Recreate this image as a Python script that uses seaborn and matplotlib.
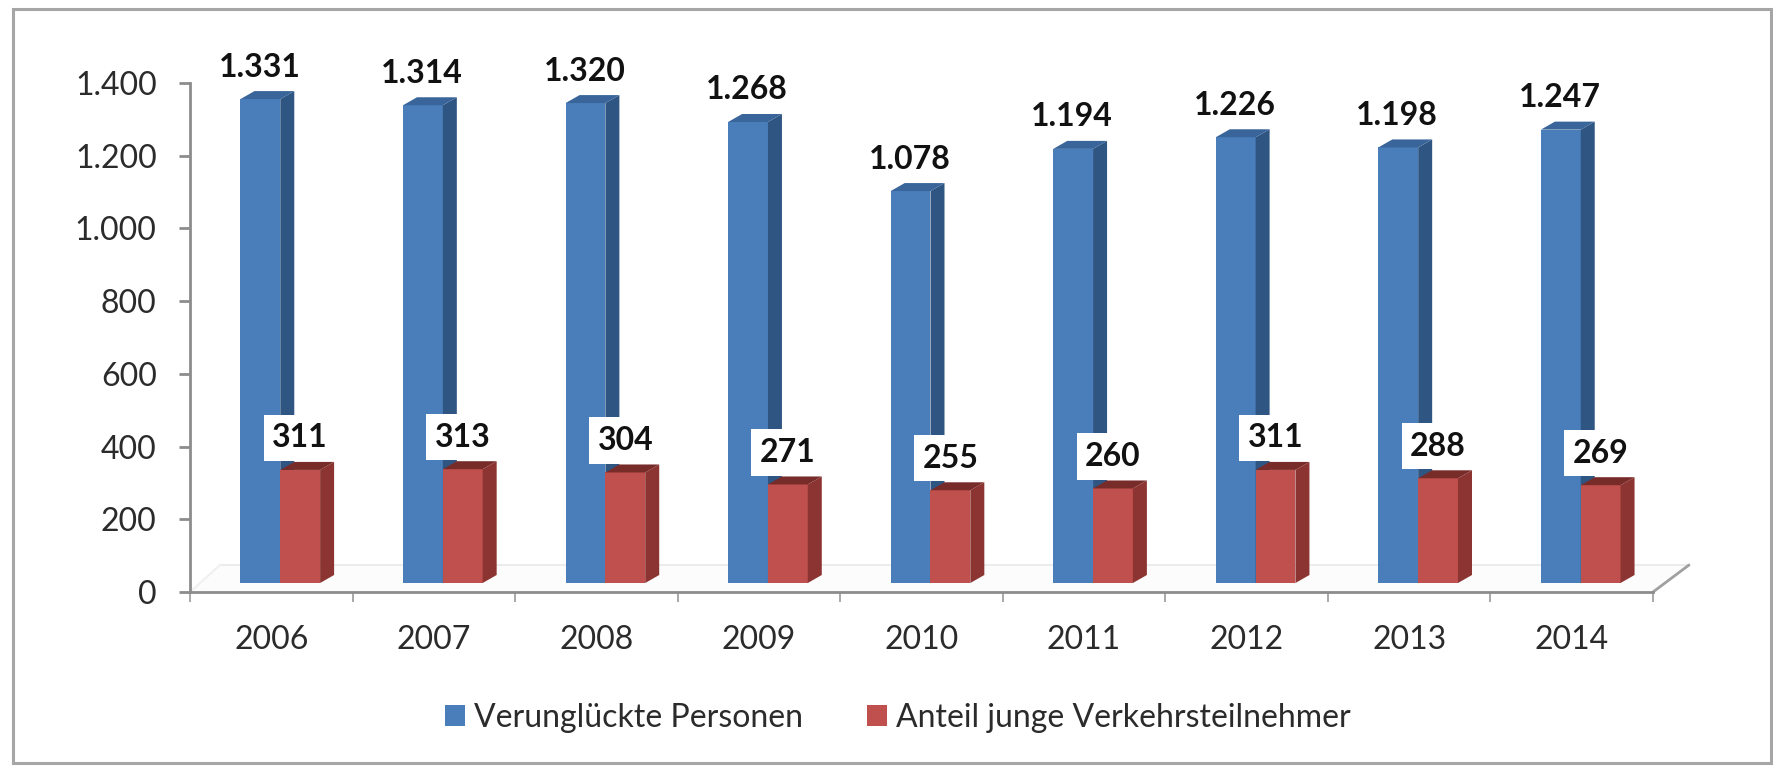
import matplotlib
matplotlib.use('Agg')
import matplotlib.pyplot as plt
import pandas as pd
import seaborn as sns
from matplotlib.patches import Polygon, Rectangle

jahre = ['2006', '2007', '2008', '2009', '2010', '2011', '2012', '2013', '2014']
verunglueckte = [1331, 1314, 1320, 1268, 1078, 1194, 1226, 1198, 1247]
junge = [311, 313, 304, 271, 255, 260, 311, 288, 269]
y_ticks = [0, 200, 400, 600, 800, 1000, 1200, 1400]
y_labels = ['0', '200', '400', '600', '800', '1.000', '1.200', '1.400']
serie_a = 'Verunglückte Personen'
serie_b = 'Anteil junge Verkehrsteilnehmer'

sns.set_style('white')
plt.rcParams['font.family'] = ['Lato', 'DejaVu Sans']

df = pd.DataFrame({
    'Jahr': jahre * 2,
    'Wert': verunglueckte + junge,
    'Serie': [serie_a] * len(jahre) + [serie_b] * len(jahre),
})

W, H = 1774, 766
fig = plt.figure(figsize=(W / 100, H / 100), dpi=100)
ax = fig.add_axes([190 / W, (H - 592) / H, (1653 - 190) / W, (592 - 83) / H])

front = {serie_a: '#4a7ebb', serie_b: '#c0504d'}
side = {serie_a: '#2f5583', serie_b: '#8c3431'}
top = {serie_a: '#3a659a', serie_b: '#772c2a'}

sns.barplot(data=df, x='Jahr', y='Wert', hue='Serie', palette=front, width=0.49,
            saturation=1, ax=ax, zorder=3, legend=True, linewidth=0)

ax.set_xlim(-0.5, 8.5)
ax.set_ylim(0, 1400)

# pixel sizes of the fake 3d look, as data units
px_x = len(jahre) / (1653 - 190)
px_y = 1400 / (592 - 83)
shift_x, shift_y = 9 * px_x, 9 * px_y
depth_x, depth_y = 14 * px_x, 8 * px_y

# floor of the 3d box
floor_l, floor_r = -0.5 + 30 * px_x, 8.5 + 36 * px_x
floor_y = 27 * px_y
ax.add_patch(Polygon([(-0.5, 0), (floor_l, floor_y), (floor_r, floor_y), (8.5, 0)],
                     closed=True, fc='#fcfcfc', ec='none', zorder=1, clip_on=False))
ax.plot([floor_l, floor_r], [floor_y, floor_y], color='#ececec', lw=1.5, zorder=1.5, clip_on=False)
ax.plot([-0.5, floor_l], [0, floor_y], color='#f0f0f0', lw=1.5, zorder=1.5, clip_on=False)
ax.plot([8.5, floor_r], [0, floor_y], color='#a0a0a0', lw=2, zorder=1.5, clip_on=False)

n = len(jahre)
bars = [b for c in ax.containers for b in c]
for i, bar in enumerate(bars):
    serie = serie_a if i < n else serie_b
    z = 3 if serie == serie_a else 4
    x0 = bar.get_x() + shift_x
    x1 = x0 + bar.get_width()
    h = bar.get_height()
    y0 = shift_y
    y1 = y0 + h
    bar.set_x(x0)
    bar.set_y(y0)
    bar.set_zorder(z)
    bar.set_clip_on(False)
    ax.add_patch(Polygon([(x1, y0), (x1 + depth_x, y0 + depth_y), (x1 + depth_x, y1 + depth_y), (x1, y1)],
                         closed=True, fc=side[serie], ec='none', zorder=z, clip_on=False))
    ax.add_patch(Polygon([(x0, y1), (x0 + depth_x, y1 + depth_y), (x1 + depth_x, y1 + depth_y), (x1, y1)],
                         closed=True, fc=top[serie], ec='none', zorder=z, clip_on=False))
    mitte = (x0 + x1) / 2
    if serie == serie_a:
        ax.text(mitte - 1 * px_x, y1 + 32 * px_y, f'{h / 1000:.3f}', ha='center', va='center', fontsize=23,
                fontweight='bold', color='#111111', zorder=6)
    else:
        ax.text(mitte, y1 + 32 * px_y, f'{h:.0f}', ha='center', va='center', fontsize=23,
                fontweight='bold', color='#111111', zorder=6,
                bbox=dict(fc='white', ec='none', boxstyle='square,pad=0.27'))

sns.despine(ax=ax)
for s in ['left', 'bottom']:
    ax.spines[s].set_color('#8c8c8c')
    ax.spines[s].set_linewidth(2)
    ax.spines[s].set_zorder(5)

ax.set_xlabel('')
ax.set_ylabel('')
ax.set_yticks(y_ticks, y_labels)
ax.set_xticks(range(n), jahre)
ax.set_xticks([i - 0.5 for i in range(n + 1)], minor=True)
ax.tick_params(axis='y', left=True, length=8, width=2, color='#8c8c8c', pad=16, labelsize=23, labelcolor='#2b2b2b')
ax.tick_params(axis='x', which='major', bottom=False, pad=20, labelsize=23, labelcolor='#2b2b2b')
ax.tick_params(axis='x', which='minor', bottom=True, length=7, width=1.2, color='#999999')
ax.patch.set_alpha(0)

handles, labels = ax.get_legend_handles_labels()
ax.legend(handles, labels, ncol=2, frameon=False, fontsize=23, labelcolor='#2b2b2b',
          loc='center', bbox_to_anchor=(898 / W, (H - 718) / H), bbox_transform=fig.transFigure,
          handlelength=0.62, handleheight=0.62, handletextpad=0.3, columnspacing=2.0, borderpad=0, borderaxespad=0)

# outer chart frame
fig.add_artist(Rectangle((13 / W, 3 / H), (1771 - 13) / W, 754 / H, transform=fig.transFigure,
                         fc='none', ec='#a6a6a6', lw=2.2))

fig.savefig('out.png', dpi=100)
